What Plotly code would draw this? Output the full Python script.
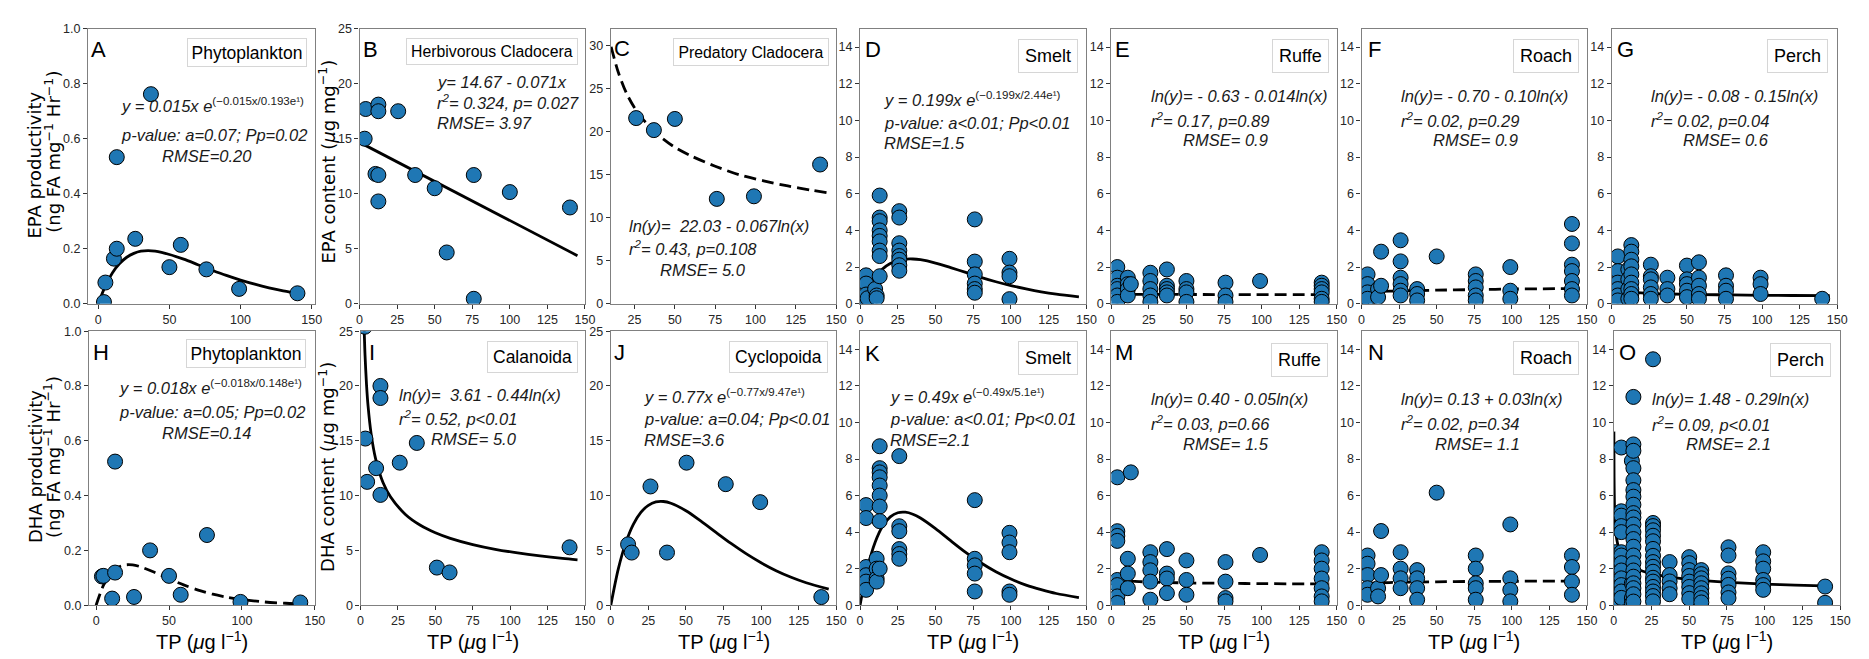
import plotly.graph_objects as go

W, H = 1869, 659
FONT = "Liberation Sans, Arial, sans-serif"
ROT = "DejaVu Sans, sans-serif"
BLUE = "#1f77b4"
TXT = "#1a1a1a"

# ---------------- data ----------------
A_x = [4, 5, 11, 13, 13, 26, 37, 50, 58, 76, 99, 140]
A_y = [0.006, 0.077, 0.164, 0.2, 0.533, 0.236, 0.762, 0.133, 0.214, 0.125, 0.054, 0.038]
A_fit_x = [0, 5, 10, 15, 20, 25, 30, 35, 40, 50, 60, 70, 80, 90, 100, 110, 120, 130, 145]
A_fit_y = [0, 0.065, 0.113, 0.146, 0.169, 0.183, 0.191, 0.193, 0.191, 0.179, 0.162, 0.142, 0.122, 0.103, 0.086, 0.071, 0.058, 0.047, 0.034]

B_x = [3.4, 4.1, 10.6, 12.5, 12.5, 12.5, 12.5, 25.7, 37, 50, 58, 76, 76, 100, 140]
B_y = [15.0, 17.7, 11.8, 11.7, 9.3, 18.1, 17.5, 17.5, 11.7, 10.5, 4.66, 11.7, 0.45, 10.15, 8.75]
B_fit_x = [0, 145]
B_fit_y = [14.67, 4.37]

C_x = [26, 37, 50, 76, 99, 140]
C_y = [21.6, 20.2, 21.5, 12.2, 12.5, 16.2]
C_fit_x = [10.5, 15, 20, 25, 30, 40, 50, 60, 75, 90, 105, 120, 135, 145]
C_fit_y = [29.9, 26.9, 24.5, 22.8, 21.5, 19.6, 18.2, 17.2, 16.0, 15.0, 14.3, 13.7, 13.2, 12.9]

D_tp = [4, 5, 10, 11, 13, 26, 76, 99]
D_vals = [[1.55, 1.1, 0.5, 0.1], [0.3], [0.8], [0.45, 0.3],
          [5.9, 4.7, 4.5, 4.0, 3.7, 3.4, 2.9, 2.6, 1.5],
          [5.05, 4.7, 3.3, 2.9, 2.6, 2.4, 2.1, 1.8],
          [4.6, 2.3, 1.6, 1.1, 0.8, 0.6], [2.45, 1.7, 1.5, 0.25]]
D_fit_x = [0, 5, 10, 15, 20, 25, 30, 35, 40, 50, 60, 70, 80, 90, 100, 110, 120, 130, 145]
D_fit_y = [0, 0.86, 1.47, 1.90, 2.19, 2.35, 2.43, 2.44, 2.40, 2.22, 1.97, 1.71, 1.44, 1.20, 0.99, 0.81, 0.65, 0.52, 0.37]

E_tp = [4, 11, 13, 26, 37, 50, 76, 99, 140]
E_vals = [[2.0, 1.42, 0.98, 0.8, 0.45, 0.1], [1.42, 1.07, 0.8, 0.45], [1.07],
          [1.69, 1.24, 0.8, 0.45, 0.1], [1.87, 0.98, 0.8, 0.62, 0.45],
          [1.24, 0.8, 0.62, 0.1], [1.15, 0.45, 0.1], [1.24],
          [1.15, 0.98, 0.8, 0.62, 0.27, 0.1]]
E_fit_x = [1, 5, 25, 75, 145]
E_fit_y = [0.53, 0.52, 0.51, 0.50, 0.49]

F_tp = [1, 4, 11, 13, 26, 37, 50, 76, 99, 140]
F_vals = [[0.27], [1.6, 1.07, 0.62, 0.27], [0.8, 0.36], [2.84, 0.98],
          [3.46, 2.31, 1.42, 1.07, 0.71, 0.45], [0.8, 0.53, 0.18], [2.58],
          [1.6, 1.24, 0.89, 0.45, 0.18], [2.0, 0.71, 0.27],
          [4.35, 3.29, 2.13, 1.78, 1.24, 0.8, 0.45]]
F_fit_x = [1, 10, 25, 50, 75, 100, 145]
F_fit_y = [0.62, 0.67, 0.70, 0.74, 0.77, 0.80, 0.83]

G_tp = [1, 4, 11, 13, 26, 37, 50, 58, 76, 99, 140]
G_vals = [[0.62], [2.58, 1.78, 1.15, 0.8, 0.45, 0.18], [1.87, 1.33, 0.8, 0.27],
          [3.2, 2.84, 2.4, 2.04, 1.6, 1.15, 0.8, 0.53, 0.27],
          [2.13, 1.5, 1.33, 0.89, 0.53, 0.27], [1.42, 0.8, 0.45],
          [2.08, 1.33, 1.07, 0.71, 0.36], [2.26, 1.42, 0.98, 0.53, 0.27],
          [1.55, 0.98, 0.71, 0.27], [1.42, 1.07, 0.53], [0.27]]
G_fit_x = [0.4, 1, 2, 4, 8, 15, 25, 40, 60, 80, 100, 120, 145]
G_fit_y = [1.06, 0.92, 0.83, 0.75, 0.68, 0.62, 0.57, 0.53, 0.50, 0.48, 0.46, 0.45, 0.44]

H_x = [4, 5, 11, 13, 13, 26, 37, 50, 58, 76, 99, 140]
H_y = [0.105, 0.107, 0.024, 0.524, 0.119, 0.03, 0.2, 0.107, 0.038, 0.256, 0.012, 0.01]
H_fit_x = [0, 5, 10, 15, 20, 25, 30, 40, 50, 60, 70, 80, 90, 100, 115, 130, 145]
H_fit_y = [0, 0.072, 0.115, 0.138, 0.147, 0.147, 0.141, 0.120, 0.096, 0.074, 0.055, 0.040, 0.029, 0.021, 0.012, 0.007, 0.004]

I_x = [2.9, 3.2, 4.4, 10.4, 13.3, 13.3, 13.3, 26.2, 37.6, 51, 59.5, 139.7]
I_y = [25.4, 15.2, 11.25, 12.5, 20.0, 18.9, 10.06, 13.0, 14.8, 3.43, 2.99, 5.28]
I_fit_x = [2.45, 3, 4, 5, 7, 10, 15, 20, 30, 40, 50, 60, 75, 90, 105, 120, 135, 145]
I_fit_y = [25, 22.8, 20.1, 18.2, 15.7, 13.4, 11.2, 9.9, 8.28, 7.29, 6.61, 6.10, 5.53, 5.10, 4.77, 4.50, 4.27, 4.14]

J_x = [11.5, 13.9, 26.4, 37.4, 50.4, 76.5, 99.4, 140.1]
J_y = [5.55, 4.8, 10.83, 4.8, 13.0, 11.04, 9.4, 0.74]
J_fit_x = [0, 5, 10, 15, 20, 25, 30, 35, 40, 50, 60, 70, 80, 90, 100, 110, 120, 130, 145]
J_fit_y = [0, 3.32, 5.71, 7.38, 8.47, 9.11, 9.42, 9.46, 9.30, 8.62, 7.67, 6.64, 5.63, 4.70, 3.87, 3.15, 2.55, 2.05, 1.46]

K_tp = [4, 11, 13, 26, 76, 99]
K_vals = [[5.48, 4.77, 2.09, 1.64, 1.29, 0.84], [2.54, 2.0, 1.46, 1.29],
          [8.7, 7.5, 7.27, 7.0, 6.55, 6.0, 5.4, 4.6, 2.0],
          [8.16, 4.32, 4.05, 3.07, 2.8, 2.54],
          [5.75, 2.54, 2.18, 1.73, 0.75], [3.96, 3.43, 2.9, 0.75, 0.57]]
K_fit_x = [0, 5, 10, 15, 20, 25, 30, 35, 40, 50, 60, 70, 80, 90, 100, 110, 120, 130, 145]
K_fit_y = [0, 2.05, 3.44, 4.33, 4.83, 5.06, 5.09, 4.98, 4.77, 4.19, 3.53, 2.89, 2.32, 1.83, 1.43, 1.10, 0.85, 0.64, 0.42]

M_tp = [4, 11, 13, 26, 37, 50, 76, 99, 140]
M_vals = [[7.0, 4.05, 3.79, 3.52, 1.38, 1.1, 0.48, 0.12], [2.54, 1.73, 0.93], [7.27],
          [2.9, 2.36, 1.91, 1.29, 0.3], [3.07, 1.73, 1.46, 0.66], [2.45, 1.38, 0.57],
          [2.36, 1.29, 0.39, 0.21], [2.75], [2.9, 2.45, 2.0, 1.46, 0.93, 0.48, 0.21]]
M_fit_x = [1, 2, 5, 10, 25, 50, 75, 100, 145]
M_fit_y = [1.49, 1.44, 1.38, 1.33, 1.27, 1.22, 1.20, 1.18, 1.16]

N_tp = [4, 11, 13, 26, 37, 50, 76, 99, 140]
N_vals = [[2.72, 2.27, 1.65, 0.93, 0.57], [0.93, 0.48], [4.06, 1.65],
          [2.9, 2.0, 1.47, 0.93], [1.92, 1.47, 0.93, 0.3], [6.16],
          [2.72, 2.0, 1.2, 0.93, 0.3], [4.42, 1.47, 0.84, 0.21], [2.72, 2.09, 1.29, 0.57]]
N_fit_x = [1, 5, 10, 25, 50, 75, 100, 145]
N_fit_y = [1.14, 1.19, 1.22, 1.25, 1.28, 1.30, 1.31, 1.32]

O_tp = [1, 5, 12, 13, 26, 37, 50, 58, 76, 99, 140]
O_vals = [[2.9, 2.72, 2.2, 1.29, 0.8, 0.39],
          [8.63, 5.14, 4.9, 4.33, 4.0, 2.9, 2.72, 2.3, 1.9, 1.47, 1.1, 0.75, 0.4],
          [7.9, 1.2, 0.39, 0.1],
          [11.4, 8.8, 8.45, 7.5, 6.84, 6.3, 5.94, 5.5, 5.04, 4.8, 4.42, 4.0, 3.62, 3.2, 2.72, 2.3, 1.9, 1.56, 1.2, 0.93, 0.6, 0.2],
          [13.46, 4.5, 4.33, 4.1, 3.8, 3.5, 3.08, 2.7, 2.36, 2.1, 1.83, 1.5, 1.29, 1.0, 0.75, 0.5, 0.21],
          [2.36, 1.65, 1.3, 0.93, 0.6],
          [2.63, 2.3, 1.92, 1.6, 1.29, 1.0, 0.66, 0.35],
          [1.92, 1.7, 1.47, 1.2, 0.93, 0.65, 0.39, 0.15],
          [3.17, 2.72, 1.74, 1.45, 1.11, 0.7, 0.39],
          [2.9, 2.4, 2.0, 1.38, 1.1, 0.84],
          [1.02, 0.13]]
O_fit_x = [0.07, 0.2, 0.5, 1, 2, 4, 7, 10, 15, 25, 40, 60, 80, 100, 120, 145]
O_fit_y = [9.5, 7.0, 5.37, 4.39, 3.59, 2.94, 2.50, 2.25, 2.00, 1.73, 1.51, 1.34, 1.23, 1.155, 1.10, 1.04]

# text labels
taxa = ["Phytoplankton", "Herbivorous Cladocera", "Predatory Cladocera", "Smelt", "Ruffe", "Roach", "Perch",
        "Phytoplankton", "Calanoida", "Cyclopoida", "Smelt", "Ruffe", "Roach", "Perch"]
letters = ["A", "B", "C", "D", "E", "F", "G", "H", "I", "J", "K", "M", "N", "O"]

def expo(a, p):
    return f"<i>y = {a}x e</i><sup>(−{a}x/{p}e¹)</sup>"

eqs = [
    [expo("0.015", "0.193"), "<i>p-value: a=0.07; Pp=0.02</i>", "<i>RMSE=0.20</i>"],
    ["<i>y= 14.67 - 0.071x</i>", "<i>r<sup>2</sup>= 0.324, p= 0.027</i>", "<i>RMSE= 3.97</i>"],
    ["<i>ln(y)=  22.03 - 0.067ln(x)</i>", "<i>r<sup>2</sup>= 0.43, p=0.108</i>", "<i>RMSE= 5.0</i>"],
    [expo("0.199", "2.44"), "<i>p-value: a<0.01; Pp<0.01</i>", "<i>RMSE=1.5</i>"],
    ["<i>ln(y)= - 0.63 - 0.014ln(x)</i>", "<i>r<sup>2</sup>= 0.17, p=0.89</i>", "<i>RMSE= 0.9</i>"],
    ["<i>ln(y)= - 0.70 - 0.10ln(x)</i>", "<i>r<sup>2</sup>= 0.02, p=0.29</i>", "<i>RMSE= 0.9</i>"],
    ["<i>ln(y)= - 0.08 - 0.15ln(x)</i>", "<i>r<sup>2</sup>= 0.02, p=0.04</i>", "<i>RMSE= 0.6</i>"],
    [expo("0.018", "0.148"), "<i>p-value: a=0.05; Pp=0.02</i>", "<i>RMSE=0.14</i>"],
    ["<i>ln(y)=  3.61 - 0.44ln(x)</i>", "<i>r<sup>2</sup>= 0.52, p<0.01</i>", "<i>RMSE= 5.0</i>"],
    [expo("0.77", "9.47"), "<i>p-value: a=0.04; Pp<0.01</i>", "<i>RMSE=3.6</i>"],
    [expo("0.49", "5.1"), "<i>p-value: a<0.01; Pp<0.01</i>", "<i>RMSE=2.1</i>"],
    ["<i>ln(y)= 0.40 - 0.05ln(x)</i>", "<i>r<sup>2</sup>= 0.03, p=0.66</i>", "<i>RMSE= 1.5</i>"],
    ["<i>ln(y)= 0.13 + 0.03ln(x)</i>", "<i>r<sup>2</sup>= 0.02, p=0.34</i>", "<i>RMSE= 1.1</i>"],
    ["<i>ln(y)= 1.48 - 0.29ln(x)</i>", "<i>r<sup>2</sup>= 0.09, p<0.01</i>", "<i>RMSE= 2.1</i>"],
]

def grouped(levels, groups):
    xs, ys = [], []
    for lv, g in zip(levels, groups):
        xs += [lv] * len(g)
        ys += list(g)
    return xs, ys

D_x, D_y = grouped(D_tp, D_vals)
E_x, E_y = grouped(E_tp, E_vals)
F_x, F_y = grouped(F_tp, F_vals)
G_x, G_y = grouped(G_tp, G_vals)
K_x, K_y = grouped(K_tp, K_vals)
M_x, M_y = grouped(M_tp, M_vals)
N_x, N_y = grouped(N_tp, N_vals)
O_x, O_y = grouped(O_tp, O_vals)

points = [(A_x, A_y), (B_x, B_y), (C_x, C_y), (D_x, D_y), (E_x, E_y), (F_x, F_y), (G_x, G_y),
          (H_x, H_y), (I_x, I_y), (J_x, J_y), (K_x, K_y), (M_x, M_y), (N_x, N_y), (O_x, O_y)]
fits = [(A_fit_x, A_fit_y), (B_fit_x, B_fit_y), (C_fit_x, C_fit_y), (D_fit_x, D_fit_y),
        (E_fit_x, E_fit_y), (F_fit_x, F_fit_y), (G_fit_x, G_fit_y), (H_fit_x, H_fit_y),
        (I_fit_x, I_fit_y), (J_fit_x, J_fit_y), (K_fit_x, K_fit_y), (M_fit_x, M_fit_y),
        (N_fit_x, N_fit_y), (O_fit_x, O_fit_y)]
dashed = [False, False, True, False, True, True, False, True, False, False, False, True, True, False]

# ---------------- layout (pixel geometry) ----------------
frames = [(77.5, 306, 14, 295), (351, 578, 14, 295), (604, 831, 14, 295), (855, 1083, 14, 295),
          (1108, 1335, 14, 295), (1360, 1587, 14, 295), (1612, 1839, 14, 295),
          (78.5, 306, 323, 603), (352, 578, 323, 603), (604, 831, 323, 603), (855, 1083, 323, 603),
          (1108, 1335, 323, 603), (1360, 1587, 323, 603), (1614, 1842, 323, 603)]
fish_x = [0, 25, 50, 75, 100, 125, 150]
fish_y = [0, 2, 4, 6, 8, 10, 12, 14]
xranges = [[-7.25, 152.25], [0, 150], [10.3, 150], [0, 150], [0, 150], [0, 150], [0, 150],
           [-4.9, 150], [0, 150], [0, 150], [0, 150], [0, 150], [0, 150], [0, 150]]
yranges = [[0, 1], [0, 25], [0, 32], [0, 15], [0, 15], [0, 15], [0, 15],
           [0, 1], [0, 25], [0, 25], [0, 15], [0, 15], [0, 15], [0, 15]]
xticks = [[0, 50, 100, 150], fish_x, [25, 50, 75, 100, 125, 150], fish_x, fish_x, fish_x, fish_x,
          [0, 50, 100, 150], fish_x, fish_x, fish_x, fish_x, fish_x, fish_x]
frac = [0, 0.2, 0.4, 0.6, 0.8, 1.0]
yticks = [frac, [0, 5, 10, 15, 20, 25], [0, 5, 10, 15, 20, 25, 30], fish_y, fish_y, fish_y, fish_y,
          frac, [0, 5, 10, 15, 20, 25], [0, 5, 10, 15, 20, 25], fish_y, fish_y, fish_y, fish_y]
# (right px, top px, font size, border pad)
boxes = [(298, 23, 17.5, 3.5), (571, 23, 15.8, 4), (824, 23, 15.8, 4.5), (1074, 25, 18, 6), (1327, 25, 18, 6),
         (1579, 25, 18, 6), (1830, 25, 18, 6),
         (297, 331, 17.5, 3.5), (571, 333, 17.5, 5), (823, 333, 17.5, 5), (1074, 333, 18, 6), (1326, 335, 18, 6),
         (1579, 333, 18, 6), (1833, 335, 18, 6)]
letter_pos = [(79, 35), (352, 35), (605, 34), (858, 35), (1110, 35), (1364, 35), (1615, 35),
              (81, 345), (358, 345), (605, 345), (858, 346), (1110, 345), (1364, 345), (1617, 345)]
eq_pos = [[(109, 92), (109, 123), (150, 144)],
          [(427, 68), (427, 89), (427, 110)],
          [(620, 216), (620, 238), (652, 261)],
          [(877, 86), (877, 110), (877, 131)],
          [(1146, 83), (1146, 107), (1178, 128)],
          [(1398, 83), (1398, 107), (1430, 128)],
          [(1649, 83), (1649, 107), (1682, 128)],
          [(107, 380), (107, 406), (150, 427)],
          [(389, 388), (389, 412), (421, 433)],
          [(635, 389), (635, 413), (635, 434)],
          [(883, 389), (883, 413), (883, 434)],
          [(1146, 392), (1146, 417), (1178, 438)],
          [(1398, 392), (1398, 417), (1432, 438)],
          [(1650, 392), (1650, 418), (1685, 438)]]

def px(x):
    return x / W

def py(y):
    return 1 - y / H

fig = go.Figure()
annotations = []
layout_axes = {}

for i in range(14):
    n = i + 1
    xa, ya = f"x{n}", f"y{n}"
    sx, sy = points[i]
    fx, fy = fits[i]
    fig.add_trace(go.Scatter(
        x=fx, y=fy, mode="lines", xaxis=xa, yaxis=ya, showlegend=False,
        line=dict(color="black", width=2.8, shape="spline", smoothing=0.8,
                  dash="12px,6px" if dashed[i] else "solid"),
        hoverinfo="skip"))
    fig.add_trace(go.Scatter(
        x=sx, y=sy, mode="markers", xaxis=xa, yaxis=ya, showlegend=False,
        marker=dict(color=BLUE, size=15, line=dict(color="black", width=1))))

    l, r, t, b = frames[i]
    common = dict(ticks="outside", ticklen=4, tickwidth=1, tickcolor="#333",
                  showline=True, linecolor="#808080", linewidth=1.2, mirror=True,
                  showgrid=False, zeroline=False,
                  tickfont=dict(family=FONT, size=12.5, color="#262626"))
    layout_axes[f"xaxis{n}"] = dict(domain=[px(l), px(r)], range=xranges[i], anchor=ya,
                                    tickvals=xticks[i], **common)
    yt = yticks[i]
    ykw = dict(domain=[py(b), py(t)], range=yranges[i], anchor=xa, tickvals=yt, **common)
    if yt is frac:
        ykw["tickformat"] = ".1f"
    layout_axes[f"yaxis{n}"] = ykw

    # legend-like label box
    bx, by, bs, bp = boxes[i]
    annotations.append(dict(x=px(bx), y=py(by), xref="paper", yref="paper", xanchor="right", yanchor="top",
                            text=taxa[i], showarrow=False, font=dict(family=FONT, size=bs, color="black"),
                            bgcolor="white", bordercolor="#d6d6d6", borderwidth=1, borderpad=bp))
    # panel letter
    lx, ly = letter_pos[i]
    annotations.append(dict(x=px(lx), y=py(ly), xref="paper", yref="paper", xanchor="left", yanchor="middle",
                            text=letters[i], showarrow=False, font=dict(family=FONT, size=22, color="black")))
    # equation lines
    for txt, (ex, ey) in zip(eqs[i], eq_pos[i]):
        annotations.append(dict(x=px(ex), y=py(ey), xref="paper", yref="paper", xanchor="left", yanchor="middle",
                                text=txt, showarrow=False, font=dict(family=FONT, size=16.5, color=TXT)))

# x-axis titles on the bottom row
for i in range(7, 14):
    l, r, t, b = frames[i]
    annotations.append(dict(x=px((l + r) / 2), y=py(639), xref="paper", yref="paper",
                            xanchor="center", yanchor="middle", text="TP (<i>μ</i>g l<sup>−1</sup>)",
                            showarrow=False, font=dict(family=FONT, size=20, color="black")))

# y-axis titles
ytitles = [("EPA productivity", 24, 153), ("(ng FA mg<sup>−1</sup> Hr<sup>−1</sup>)", 42, 140),
           ("EPA content (<i>μ</i>g mg<sup>−1</sup>)", 318, 150),
           ("DHA productivity", 24, 461), ("(ng FA mg<sup>−1</sup> Hr<sup>−1</sup>)", 42, 452),
           ("DHA content (<i>μ</i>g mg<sup>−1</sup>)", 318, 462)]
for txt, tx, ty in ytitles:
    annotations.append(dict(x=px(tx), y=py(ty), xref="paper", yref="paper", xanchor="center", yanchor="middle",
                            text=txt, textangle=-90, showarrow=False,
                            font=dict(family=ROT, size=18, color="black")))

fig.update_layout(width=W, height=H, autosize=False, margin=dict(l=0, r=0, t=0, b=0),
                  paper_bgcolor="white", plot_bgcolor="white", showlegend=False,
                  annotations=annotations, **layout_axes)

fig.write_html("out.html")
